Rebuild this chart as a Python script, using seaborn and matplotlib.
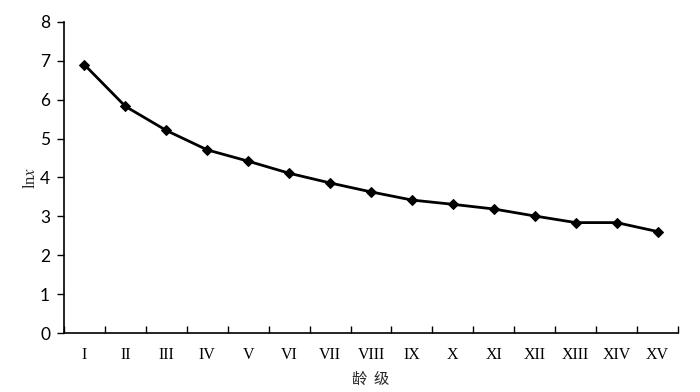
import numpy as np
import pandas as pd
import seaborn as sns
from matplotlib import pyplot as plt
from matplotlib.ticker import FixedLocator, NullFormatter

age_classes = ["I", "II", "III", "IV", "V", "VI", "VII", "VIII",
               "IX", "X", "XI", "XII", "XIII", "XIV", "XV"]
ln_x = [6.9, 5.83, 5.21, 4.71, 4.42, 4.11, 3.86, 3.63,
        3.42, 3.31, 3.19, 3.01, 2.84, 2.84, 2.61]

df = pd.DataFrame({"pos": np.arange(len(age_classes)), "lnx": ln_x})

sns.set_theme(style="ticks")
plt.rcParams["font.family"] = ["Liberation Serif", "DejaVu Sans"]
plt.rcParams["mathtext.fontset"] = "stix"

fig = plt.figure(figsize=(7, 3.92), dpi=100)
ax = fig.add_axes([0.0914, 0.1505, 0.8772, 0.7934])

sns.lineplot(data=df, x="pos", y="lnx", ax=ax, color="black",
             linewidth=2, marker="D", markersize=5.5,
             markeredgecolor="black", markerfacecolor="black")

ax.set_xlim(-0.5, len(age_classes) - 0.5)
ax.set_ylim(0, 8)
ax.set_yticks(range(0, 9))
ax.tick_params(axis="y", direction="out", length=5, width=1, colors="black",
               labelsize=12.5, pad=5)
for lab in ax.get_yticklabels():
    lab.set_family(["Lato", "DejaVu Sans"])

# category boundaries as ticks, labels in the middle
ax.xaxis.set_major_locator(FixedLocator(np.arange(-0.5, len(age_classes), 1.0)))
ax.xaxis.set_major_formatter(NullFormatter())
ax.xaxis.set_minor_locator(FixedLocator(df["pos"].to_numpy()))
ax.set_xticklabels(age_classes, minor=True)
ax.tick_params(axis="x", which="major", direction="in", length=5, width=1,
               colors="black")
ax.tick_params(axis="x", which="minor", length=0, pad=10, labelsize=11.5,
               labelcolor="black")

sns.despine(ax=ax)
for sp in ("left", "bottom"):
    ax.spines[sp].set_color("black")
    ax.spines[sp].set_linewidth(1.2)

ax.set_xlabel("龄  级", family=["Noto Sans CJK SC", "DejaVu Sans"],
              fontsize=11, labelpad=6)
ax.set_ylabel(r"ln$\it{x}$", fontsize=12, labelpad=1)

fig.savefig("out.png", dpi=100)
